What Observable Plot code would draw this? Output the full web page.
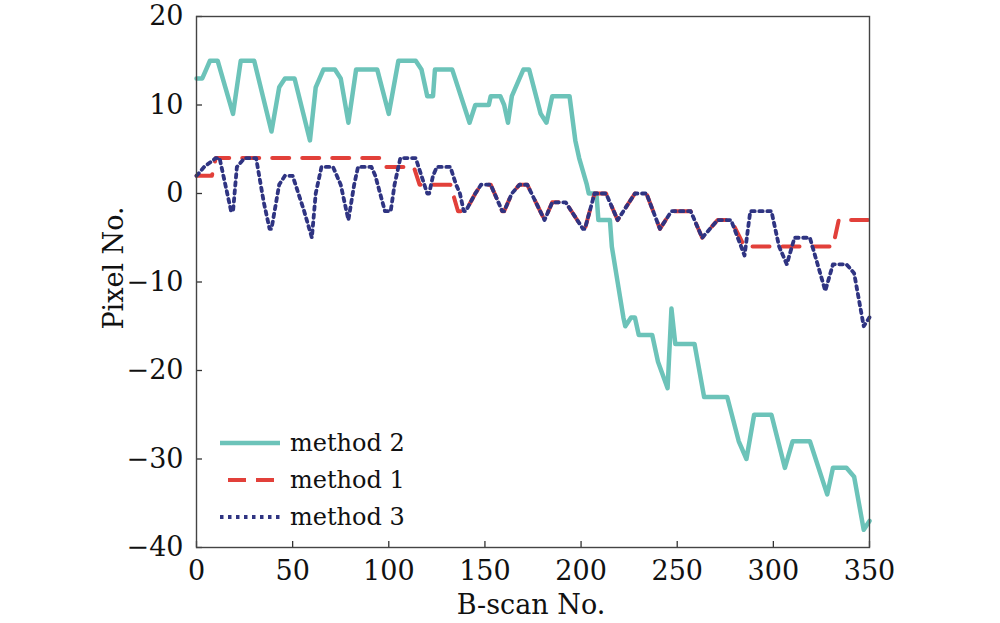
<!DOCTYPE html>
<html>
<head>
<meta charset="utf-8">
<script src="https://cdn.jsdelivr.net/npm/d3@7"></script>
<script src="https://cdn.jsdelivr.net/npm/@observablehq/plot@0.6"></script>
<style>
  html, body { margin: 0; padding: 0; background: #fff; }
  #wrap { position: relative; width: 1000px; height: 623px; }
  #legend { position: absolute; left: 218px; top: 424px; font-family: "DejaVu Serif", serif; font-size: 24px; color: #111; }
  .row { display: flex; align-items: center; height: 37px; }
  .row svg { width: 64px; height: 10px; margin-right: 8px; }
</style>
</head>
<body>
<div id="wrap"><div id="legend"></div></div>
<script>
// method 2 (teal, solid)
const bscan2 = [0,3,5,7,11,15,19,23,30,39,43,46,51,59,62,66,72,75,79,83,94,100,105,114,117,119,120,123,124,133,142,145,152,153,158,160,162,164,168,170,173,179,182,185,194,197,199,203,204,208,209,215,216,219,222,223,226,228,230,237,240,245,247,249,259,264,276,282,286,290,299,306,310,319,328,331,338,342,347,350];
const pixel2 = [13,13,14,15,15,12,9,15,15,7,12,13,13,6,12,14,14,13,8,14,14,9,15,15,14,12,11,11,14,14,8,10,10,11,11,10,8,11,13,14,14,9,8,11,11,6,4,1,0,0,-3,-3,-6,-10,-14,-15,-14,-14,-16,-16,-19,-22,-13,-17,-17,-23,-23,-28,-30,-25,-25,-31,-28,-28,-34,-31,-31,-32,-38,-37];

// method 1 (red, dashed)
const bscan1 = [0,8,10,96,98,113,116,132,136,140,145,148,153,159,160,164,168,172,181,185,192,201,202,207,213,219,228,234,241,247,257,263,271,278,285,331,334,350];
const pixel1 = [2,2,4,4,3,3,1,1,-2,-2,0,1,1,-2,-2,0,1,1,-3,-1,-1,-4,-4,0,0,-3,0,0,-4,-2,-2,-5,-3,-3,-6,-6,-3,-3];

// method 3 (navy, dotted)
const bscan3 = [0,4,10,12,16,18,19,21,25,31,35,38,39,43,46,50,56,60,62,65,71,75,79,82,84,91,93,98,101,103,106,114,117,120,121,123,125,132,135,137,139,140,145,148,153,159,160,164,168,172,181,185,192,201,202,207,213,219,228,234,241,247,257,263,271,278,285,288,299,303,307,311,319,323,327,331,338,342,347,350];
const pixel3 = [2,3,4,4,0,-2,-2,3,4,4,-1,-4,-4,1,2,2,-2,-5,0,3,3,1,-3,1,3,3,2,-2,-2,1,4,4,2,0,0,2,3,3,1,0,-2,-2,0,1,1,-2,-2,0,1,1,-3,-1,-1,-4,-4,0,0,-3,0,0,-4,-2,-2,-5,-3,-3,-7,-2,-2,-6,-8,-5,-5,-8,-11,-8,-8,-9,-15,-14];

const seriesNames = ["method 2", "method 1", "method 3"];
const xTicks = [0, 50, 100, 150, 200, 250, 300, 350];
const yTicks = [20, 10, 0, -10, -20, -30, -40];
const xTitle = "B-scan No.";
const yTitle = "Pixel No.";

const colors = {"method 2": "#6cc3b9", "method 1": "#e2403a", "method 3": "#2f3482"};
const dashes = {"method 2": null, "method 1": "17,13", "method 3": "3.5,4.5"};
const widths = {"method 2": 4.5, "method 1": 4, "method 3": 3.8};

const rows = (xs, ys) => xs.map((x, i) => ({x, y: ys[i]}));
const d2 = rows(bscan2, pixel2);
const d1 = rows(bscan1, pixel1);
const d3 = rows(bscan3, pixel3);

const W = 1000, H = 623, ML = 196, MR = 131, MT = 16, MB = 76;
const plotW = W - ML - MR, plotH = H - MT - MB;
const fmt = d => d < 0 ? "\u2212" + Math.abs(d) : String(d);

const chart = Plot.plot({
  width: W, height: H,
  marginLeft: ML, marginRight: MR, marginTop: MT, marginBottom: MB,
  style: {fontFamily: "DejaVu Serif, serif", fontSize: "27px", color: "#111", background: "#fff", overflow: "visible"},
  x: {domain: [0, 350]},
  y: {domain: [-40, 20]},
  marks: [
    Plot.axisX({ticks: xTicks, tickSize: 0, tickPadding: 13, tickFormat: fmt, label: null, fontSize: 27}),
    Plot.axisY({ticks: yTicks, tickSize: 0, tickPadding: 13, tickFormat: fmt, label: null, fontSize: 27}),
    Plot.text([xTitle], {text: d => d, frameAnchor: "bottom", lineAnchor: "middle", textAnchor: "middle", dy: 58, dx: -2, fontSize: 27, fill: "#111"}),
    Plot.text([yTitle], {text: d => d, frameAnchor: "left", rotate: -90, lineAnchor: "middle", textAnchor: "middle", dx: -82, dy: -14, fontSize: 27, fill: "#111"}),
    Plot.tickX(xTicks, {x: d => d, insetTop: plotH - 6, stroke: "#333", strokeWidth: 1.3}),
    Plot.tickY(yTicks, {y: d => d, insetRight: plotW - 6, stroke: "#333", strokeWidth: 1.3}),
    Plot.line(d2, {x: "x", y: "y", stroke: colors["method 2"], strokeWidth: widths["method 2"], strokeLinejoin: "round"}),
    Plot.line(d1, {x: "x", y: "y", stroke: colors["method 1"], strokeWidth: widths["method 1"], strokeDasharray: dashes["method 1"]}),
    Plot.line(d3, {x: "x", y: "y", stroke: colors["method 3"], strokeWidth: widths["method 3"], strokeDasharray: dashes["method 3"]}),
    Plot.frame({stroke: "#444", strokeWidth: 1.4})
  ]
});
const wrap = document.getElementById("wrap");
wrap.insertBefore(chart, wrap.firstChild);

const legend = document.getElementById("legend");
for (const name of seriesNames) {
  const row = document.createElement("div");
  row.className = "row";
  const ns = "http://www.w3.org/2000/svg";
  const svg = document.createElementNS(ns, "svg");
  const ln = document.createElementNS(ns, "line");
  ln.setAttribute("x1", 2); ln.setAttribute("x2", 62);
  ln.setAttribute("y1", 5); ln.setAttribute("y2", 5);
  ln.setAttribute("stroke", colors[name]);
  ln.setAttribute("stroke-width", widths[name]);
  if (dashes[name]) ln.setAttribute("stroke-dasharray", name === "method 1" ? "18,10" : dashes[name]);
  if (name === "method 1") ln.setAttribute("stroke-dashoffset", "-8");
  svg.appendChild(ln);
  row.appendChild(svg);
  const t = document.createElement("span");
  t.textContent = name;
  row.appendChild(t);
  legend.appendChild(row);
}
</script>
</body>
</html>
